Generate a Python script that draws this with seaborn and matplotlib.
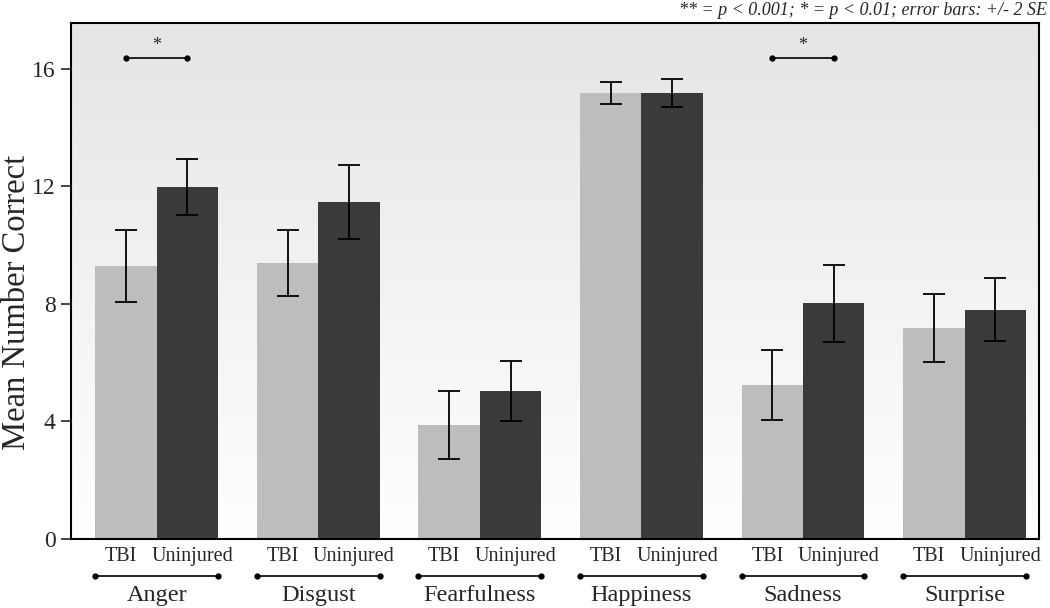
import pandas as pd
import numpy as np
import matplotlib.pyplot as plt
import seaborn as sns
from matplotlib.transforms import blended_transform_factory

# values
emotions = ['Anger', 'Disgust', 'Fearfulness', 'Happiness', 'Sadness', 'Surprise']
groups = ['TBI', 'Uninjured']
tbi_mean = [9.29, 9.40, 3.88, 15.18, 5.24, 7.18]
uninj_mean = [11.98, 11.47, 5.04, 15.18, 8.03, 7.80]
tbi_err = [1.23, 1.12, 1.16, 0.39, 1.19, 1.17]
uninj_err = [0.96, 1.26, 1.02, 0.49, 1.31, 1.07]
significant = ['Anger', 'Sadness']
bracket_height = 16.37

data = pd.DataFrame({
    'Emotion': emotions * 2,
    'Group': ['TBI'] * 6 + ['Uninjured'] * 6,
    'Mean': tbi_mean + uninj_mean,
    'Err': tbi_err + uninj_err,
})

sns.set_style('white')
plt.rcParams['font.family'] = ['Liberation Serif', 'DejaVu Serif']

fig = plt.figure(figsize=(10.5, 6.08), dpi=100)
ax = fig.add_axes([0.0676, 0.1135, 0.9219, 0.8485])

# grey at the top fading to white at the bottom
grad = np.linspace(0, 1, 256).reshape(-1, 1)
ax.imshow(grad, extent=[0, 1, 0, 1], transform=ax.transAxes, aspect='auto', origin='lower',
          cmap=sns.blend_palette(['#ffffff', '#e4e5e7'], as_cmap=True), zorder=0)

sns.barplot(data=data, x='Emotion', y='Mean', hue='Group', order=emotions, hue_order=groups,
            palette={'TBI': '#bcbdbf', 'Uninjured': '#3a3a3c'}, width=0.76,
            errorbar=None, saturation=1, legend=False, ax=ax, zorder=2,
            edgecolor='none', linewidth=0)

# error bars on top of the bars seaborn drew
centers = {}
for container, g in zip(ax.containers, groups):
    errs = data[data['Group'] == g]['Err'].values
    xs = [b.get_x() + b.get_width() / 2 for b in container]
    hs = [b.get_height() for b in container]
    ax.errorbar(xs, hs, yerr=errs, fmt='none', ecolor='black', elinewidth=1.3,
                capsize=8, capthick=1.3, zorder=3)
    for e, x, b in zip(emotions, xs, container):
        centers.setdefault(e, []).append((x, b.get_x(), b.get_x() + b.get_width()))

ax.set_xlim(-0.53, 5.46)
ax.set_ylim(0, 17.56)
ax.set_yticks([0, 4, 8, 12, 16])
ax.tick_params(axis='y', direction='out', length=7, width=1.2, labelsize=17, left=True, pad=4)
ax.set_xticks([])
ax.set_xlabel('')
ax.set_ylabel('Mean Number Correct', fontsize=23.5, ha='center', va='center')
ax.yaxis.set_label_coords(-0.0558, 0.459)
for s in ax.spines.values():
    s.set_linewidth(1.5)
    s.set_color('black')

trans = blended_transform_factory(ax.transData, ax.transAxes)
for e in emotions:
    (c1, left, _), (c2, _, right) = centers[e]
    # group labels under each bar, nudged slightly apart like the original
    ax.text(c1 - 0.03, -0.033, 'TBI', transform=trans, ha='center', va='center', fontsize=14.5)
    ax.text(c2 + 0.03, -0.033, 'Uninjured', transform=trans, ha='center', va='center', fontsize=14.5)
    ax.plot([left, right], [-0.072, -0.072], color='black', lw=1.2, marker='o', markersize=3.5,
            transform=trans, clip_on=False)
    ax.text((left + right) / 2, -0.11, e, transform=trans, ha='center', va='center', fontsize=17.5)

# significance brackets
for e in significant:
    x1, x2 = centers[e][0][0], centers[e][1][0]
    ax.plot([x1, x2], [bracket_height, bracket_height], color='black', lw=1.2, marker='o',
            markersize=3.5, zorder=3)
    ax.text((x1 + x2) / 2, bracket_height + 0.15, '*', ha='center', va='bottom', fontsize=13)

fig.text(0.997, 0.997, '** = p < 0.001; * = p < 0.01; error bars: +/- 2 SE', ha='right', va='top',
         fontsize=13, style='italic')

fig.savefig('out.png', dpi=100)
